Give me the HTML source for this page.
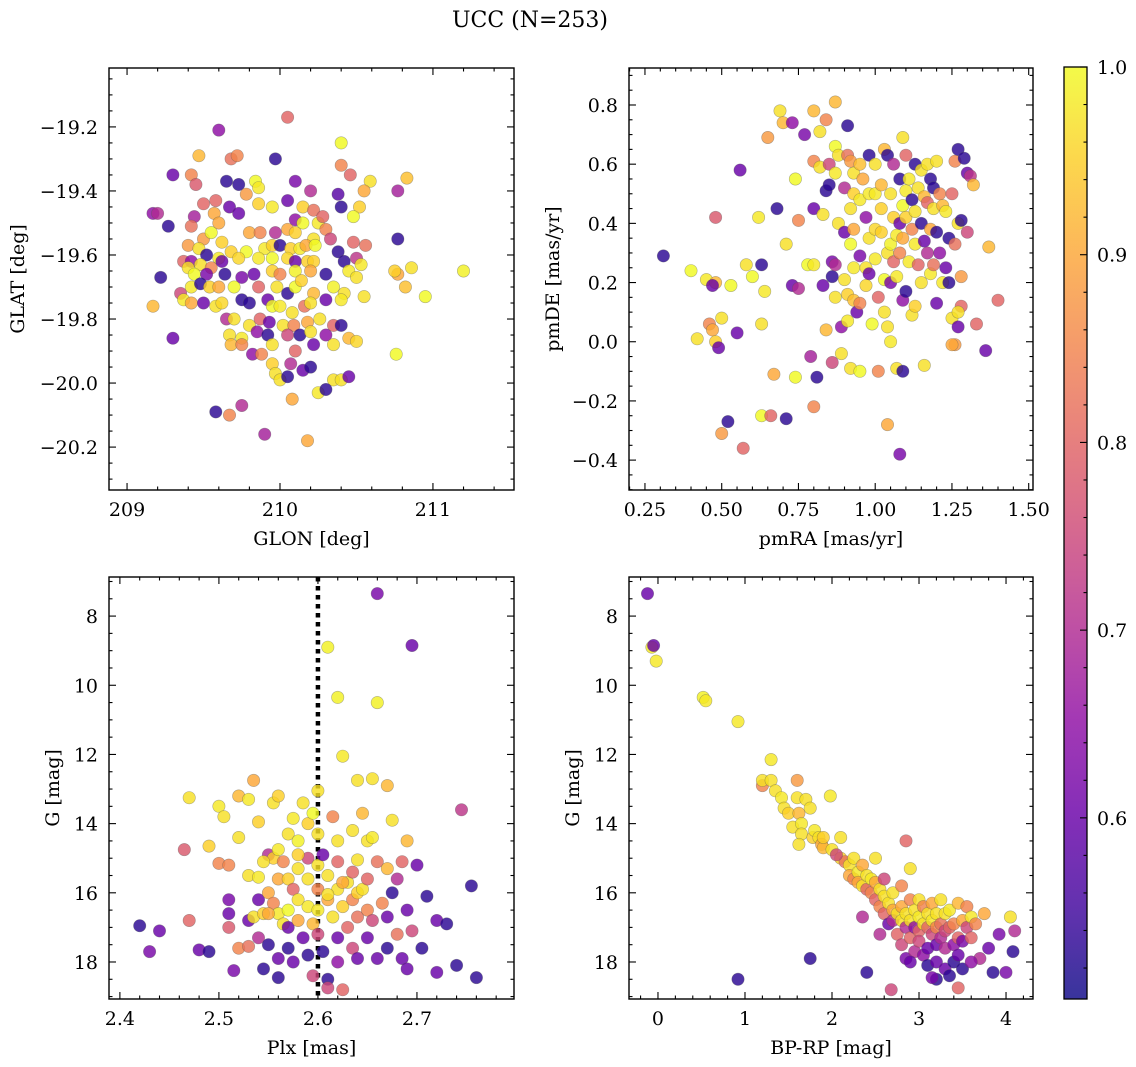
<!DOCTYPE html>
<html><head><meta charset="utf-8">
<style>
html,body{margin:0;padding:0;background:#fff;}
svg{display:block;font-family:"DejaVu Serif","Liberation Serif",serif;}
</style></head>
<body>
<svg id="fig" width="1136" height="1067" viewBox="0 0 1136 1067" xmlns="http://www.w3.org/2000/svg">
<text x="530" y="27" font-size="22" text-anchor="middle">UCC (N=253)</text>
</svg>
<script>
// ---------- data ----------
const glonGlatProb = [[210.05,-19.17,0.8],[209.6,-19.21,0.65],[210.4,-19.25,1.0],[209.97,-19.3,0.53],[210.4,-19.32,0.85],[209.47,-19.29,0.92],[209.68,-19.3,0.82],[209.72,-19.29,0.85],[210.83,-19.36,0.93],[210.59,-19.37,0.97],[210.46,-19.35,0.8],[209.3,-19.35,0.6],[209.42,-19.35,0.85],[209.45,-19.38,0.78],[209.84,-19.37,1.0],[209.86,-19.39,0.98],[209.65,-19.37,0.53],[209.73,-19.38,0.53],[209.78,-19.41,0.88],[210.1,-19.37,0.62],[210.2,-19.4,0.7],[210.38,-19.41,0.58],[210.55,-19.4,0.9],[210.77,-19.4,0.68],[210.52,-19.45,0.95],[210.4,-19.45,0.53],[209.5,-19.44,0.8],[209.58,-19.43,0.8],[209.67,-19.45,0.6],[209.86,-19.44,0.95],[209.95,-19.45,0.98],[210.05,-19.43,0.6],[210.15,-19.45,0.95],[210.22,-19.46,0.82],[209.44,-19.48,0.68],[209.57,-19.47,0.9],[209.73,-19.47,0.6],[209.17,-19.47,0.65],[209.2,-19.47,0.7],[209.27,-19.51,0.53],[209.42,-19.51,0.82],[209.6,-19.5,0.9],[210.1,-19.49,0.65],[210.15,-19.5,1.0],[210.25,-19.5,0.98],[210.28,-19.48,0.8],[210.48,-19.48,1.0],[210.77,-19.55,0.53],[209.5,-19.55,0.88],[209.55,-19.53,1.0],[209.62,-19.56,0.95],[209.8,-19.53,0.9],[209.87,-19.53,0.85],[209.97,-19.53,0.7],[210.05,-19.52,0.9],[210.1,-19.53,0.95],[210.22,-19.55,0.97],[210.3,-19.52,0.85],[210.33,-19.55,0.75],[210.48,-19.56,0.8],[210.56,-19.57,0.82],[209.4,-19.57,0.88],[209.47,-19.58,0.97],[209.52,-19.6,0.53],[209.6,-19.61,0.98],[209.68,-19.59,0.95],[209.78,-19.59,1.0],[209.9,-19.58,0.98],[209.95,-19.57,0.95],[210.0,-19.57,0.53],[210.07,-19.58,0.95],[210.13,-19.58,0.98],[210.17,-19.57,0.9],[210.23,-19.57,1.0],[210.38,-19.59,0.53],[209.37,-19.62,0.8],[209.42,-19.62,0.65],[209.48,-19.63,0.97],[209.55,-19.64,0.85],[209.62,-19.62,0.6],[209.73,-19.61,0.96],[209.86,-19.61,0.98],[209.95,-19.61,1.0],[210.05,-19.61,0.96],[210.1,-19.62,0.6],[210.18,-19.62,0.95],[210.22,-19.62,0.95],[210.42,-19.62,0.53],[210.5,-19.61,0.72],[210.53,-19.63,0.98],[209.22,-19.67,0.53],[209.4,-19.64,0.97],[209.44,-19.66,1.0],[209.52,-19.66,0.62],[209.64,-19.66,0.53],[209.75,-19.67,0.62],[209.83,-19.66,0.6],[209.95,-19.65,0.95],[210.0,-19.66,0.85],[210.1,-19.65,0.99],[210.2,-19.65,0.9],[210.3,-19.66,0.53],[210.45,-19.65,0.98],[210.5,-19.67,0.97],[210.77,-19.66,0.9],[210.75,-19.65,0.95],[210.86,-19.64,0.97],[211.2,-19.65,0.99],[209.35,-19.72,0.75],[209.42,-19.7,0.98],[209.48,-19.69,0.53],[209.54,-19.7,0.95],[209.6,-19.7,0.9],[209.7,-19.7,1.0],[209.86,-19.7,0.8],[209.98,-19.7,0.97],[210.05,-19.72,0.53],[210.1,-19.7,1.0],[210.14,-19.68,0.95],[210.22,-19.72,0.92],[210.35,-19.7,0.99],[210.42,-19.72,0.97],[210.82,-19.7,0.93],[210.95,-19.73,1.0],[209.17,-19.76,0.92],[209.37,-19.74,0.98],[209.42,-19.75,0.9],[209.5,-19.75,0.6],[209.58,-19.76,0.97],[209.62,-19.75,0.96],[209.75,-19.74,0.53],[209.8,-19.75,0.53],[209.92,-19.74,0.6],[209.95,-19.76,1.0],[210.0,-19.76,0.98],[210.08,-19.78,0.97],[210.16,-19.76,0.82],[210.2,-19.75,0.97],[210.3,-19.74,0.6],[210.4,-19.74,0.98],[210.55,-19.73,0.97],[209.65,-19.8,0.7],[209.7,-19.8,0.97],[209.8,-19.82,0.97],[209.87,-19.8,0.8],[209.93,-19.81,0.6],[210.02,-19.82,0.97],[210.09,-19.82,0.85],[210.18,-19.81,0.9],[210.26,-19.8,0.97],[210.35,-19.82,0.8],[210.4,-19.82,0.53],[209.67,-19.85,0.97],[209.75,-19.86,0.98],[209.85,-19.84,0.65],[209.92,-19.85,0.53],[210.05,-19.85,0.75],[210.13,-19.85,0.53],[210.2,-19.84,0.97],[210.3,-19.85,0.65],[210.45,-19.86,0.92],[209.3,-19.86,0.6],[209.68,-19.88,0.92],[209.75,-19.88,0.85],[209.95,-19.88,0.97],[210.1,-19.9,0.8],[210.22,-19.88,0.6],[210.35,-19.88,0.97],[210.5,-19.87,0.96],[209.82,-19.91,0.65],[209.88,-19.91,0.85],[209.95,-19.94,0.95],[210.07,-19.94,0.7],[210.15,-19.96,0.6],[210.2,-19.95,0.53],[210.76,-19.91,1.0],[209.97,-19.97,0.97],[210.0,-19.99,0.97],[210.05,-19.98,0.53],[210.35,-19.99,0.97],[210.4,-19.99,0.97],[210.45,-19.98,0.6],[210.08,-20.05,0.9],[210.25,-20.03,0.98],[210.3,-20.02,0.53],[209.75,-20.07,0.7],[209.58,-20.09,0.53],[209.67,-20.1,0.85],[209.9,-20.16,0.68],[210.18,-20.18,0.9]];
const pmraPmdeProb = [[0.31,0.29,0.53],[0.4,0.24,1.0],[0.42,0.01,0.97],[0.45,0.21,0.98],[0.46,0.06,0.85],[0.47,0.04,0.9],[0.48,0.2,0.92],[0.48,0.42,0.78],[0.47,0.19,0.6],[0.48,0.0,0.95],[0.49,-0.02,0.6],[0.5,0.08,0.97],[0.5,-0.31,0.88],[0.52,-0.27,0.53],[0.53,0.19,1.0],[0.55,0.03,0.6],[0.56,0.58,0.6],[0.57,-0.36,0.8],[0.58,0.26,0.97],[0.6,0.22,1.0],[0.62,0.42,0.98],[0.63,0.26,0.53],[0.63,0.06,0.97],[0.63,-0.25,1.0],[0.64,0.17,0.98],[0.65,0.69,0.88],[0.66,-0.25,0.8],[0.67,-0.11,0.9],[0.68,0.45,0.53],[0.69,0.78,0.97],[0.7,0.74,0.92],[0.71,0.33,0.97],[0.71,-0.26,0.53],[0.73,0.74,0.65],[0.73,0.19,0.6],[0.74,0.55,1.0],[0.74,-0.12,1.0],[0.75,0.41,0.85],[0.75,0.18,0.7],[0.77,0.7,0.62],[0.78,0.26,1.0],[0.79,-0.05,0.68],[0.8,0.78,0.92],[0.8,0.61,0.85],[0.8,0.45,0.6],[0.8,0.26,0.98],[0.8,-0.22,0.85],[0.81,-0.12,0.53],[0.82,0.71,0.97],[0.82,0.59,0.97],[0.83,0.43,0.97],[0.83,0.19,0.6],[0.84,0.75,0.85],[0.84,0.51,0.53],[0.84,0.04,0.92],[0.85,0.6,0.75],[0.85,0.53,0.53],[0.86,0.27,0.62],[0.86,0.22,0.53],[0.86,-0.07,0.75],[0.87,0.81,0.92],[0.87,0.66,1.0],[0.87,0.57,0.98],[0.87,0.26,0.7],[0.87,0.15,0.97],[0.88,0.63,0.97],[0.88,0.4,0.97],[0.89,0.05,0.65],[0.89,-0.04,0.97],[0.9,0.52,0.7],[0.9,0.37,0.6],[0.9,0.21,0.97],[0.91,0.73,0.53],[0.91,0.63,0.82],[0.91,0.16,0.95],[0.91,0.07,0.98],[0.92,0.61,0.88],[0.92,0.45,0.97],[0.92,0.33,1.0],[0.92,-0.09,0.97],[0.93,0.57,0.97],[0.93,0.5,0.95],[0.93,0.38,0.9],[0.93,0.25,0.98],[0.93,0.14,0.93],[0.94,0.1,0.6],[0.95,0.6,0.93],[0.95,0.48,0.98],[0.95,0.29,0.62],[0.95,0.13,0.85],[0.95,-0.1,1.0],[0.96,0.55,0.9],[0.97,0.42,0.65],[0.97,0.25,0.97],[0.97,0.19,0.96],[0.98,0.63,0.53],[0.98,0.5,0.98],[0.98,0.35,0.97],[0.98,0.23,0.6],[0.99,0.06,1.0],[1.0,0.6,0.97],[1.0,0.5,0.98],[1.0,0.38,0.96],[1.0,0.28,0.98],[1.01,0.15,0.8],[1.01,-0.1,0.85],[1.02,0.53,0.92],[1.02,0.45,0.95],[1.02,0.37,0.95],[1.03,0.65,0.92],[1.03,0.21,1.0],[1.03,0.1,0.97],[1.04,0.63,0.53],[1.04,0.3,0.97],[1.04,0.05,0.97],[1.04,-0.28,0.9],[1.05,0.5,0.97],[1.05,0.33,0.99],[1.05,0.2,0.62],[1.05,0.0,0.98],[1.06,0.6,0.7],[1.06,0.42,0.95],[1.06,0.27,0.8],[1.07,0.36,0.98],[1.07,0.22,0.98],[1.07,-0.09,0.97],[1.08,0.55,0.53],[1.08,0.4,0.6],[1.08,0.3,0.85],[1.08,-0.38,0.62],[1.09,0.69,0.97],[1.09,0.46,1.0],[1.09,0.35,0.9],[1.09,0.14,0.65],[1.09,-0.1,0.53],[1.1,0.63,0.8],[1.1,0.51,0.98],[1.1,0.42,0.95],[1.1,0.17,0.53],[1.11,0.55,0.98],[1.11,0.27,0.98],[1.12,0.48,0.53],[1.12,0.38,0.85],[1.12,0.09,0.97],[1.13,0.6,0.53],[1.13,0.44,0.97],[1.13,0.33,0.98],[1.13,0.12,0.95],[1.14,0.52,0.97],[1.14,0.26,0.8],[1.15,0.58,0.97],[1.15,0.4,0.53],[1.15,0.2,0.97],[1.16,0.49,0.92],[1.16,0.34,0.6],[1.16,-0.08,0.97],[1.17,0.6,0.97],[1.17,0.47,0.8],[1.17,0.3,0.7],[1.18,0.55,0.53],[1.18,0.38,0.9],[1.18,0.23,0.98],[1.19,0.52,0.53],[1.19,0.45,0.97],[1.19,0.26,0.82],[1.2,0.61,0.97],[1.2,0.37,0.53],[1.2,0.13,0.6],[1.21,0.5,0.85],[1.21,0.3,0.65],[1.22,0.46,0.92],[1.22,0.2,0.98],[1.23,0.44,0.98],[1.23,0.25,0.6],[1.24,0.35,0.53],[1.24,0.2,0.53],[1.25,0.5,0.8],[1.25,0.08,0.97],[1.26,0.61,0.85],[1.26,0.33,0.82],[1.26,-0.01,0.88],[1.27,0.65,0.53],[1.27,0.4,0.97],[1.27,0.05,0.6],[1.28,0.22,0.88],[1.28,0.12,0.8],[1.28,0.41,0.53],[1.29,0.62,0.53],[1.3,0.57,0.6],[1.3,0.37,0.75],[1.31,0.56,0.72],[1.32,0.53,0.92],[1.33,0.06,0.8],[1.36,-0.03,0.6],[1.37,0.32,0.92],[1.4,0.14,0.8],[1.27,0.1,0.97],[1.25,-0.01,0.9]];
const plxGProb = [[2.42,16.95,0.53],[2.44,17.1,0.6],[2.43,17.7,0.62],[2.465,14.75,0.78],[2.47,13.25,0.97],[2.47,16.8,0.8],[2.48,17.65,0.6],[2.49,17.7,0.53],[2.49,14.65,0.95],[2.5,13.5,0.98],[2.5,15.15,0.85],[2.505,13.8,0.97],[2.51,15.2,0.85],[2.51,16.2,0.62],[2.51,16.6,0.6],[2.51,17.0,0.78],[2.515,18.25,0.62],[2.52,13.2,0.92],[2.52,14.4,0.97],[2.52,17.6,0.85],[2.53,13.3,0.98],[2.53,15.5,0.97],[2.53,16.8,0.6],[2.53,17.55,0.82],[2.535,12.75,0.9],[2.535,16.7,0.97],[2.54,13.95,0.95],[2.54,15.55,0.98],[2.54,16.2,0.6],[2.54,17.3,0.7],[2.545,18.2,0.53],[2.545,16.6,0.95],[2.55,14.9,0.7],[2.55,16.0,0.9],[2.55,17.5,0.53],[2.555,13.4,0.97],[2.555,15.0,0.95],[2.555,16.3,0.85],[2.56,13.2,0.95],[2.56,14.75,0.98],[2.56,15.6,0.9],[2.56,16.6,0.98],[2.56,17.9,0.6],[2.56,18.45,0.53],[2.565,15.1,0.85],[2.565,16.9,0.97],[2.57,14.3,0.97],[2.57,15.6,0.95],[2.57,16.5,1.0],[2.57,17.0,0.6],[2.57,17.6,0.53],[2.575,13.85,0.98],[2.575,15.9,0.8],[2.575,18.0,0.6],[2.58,14.5,0.99],[2.58,15.3,0.97],[2.58,16.2,0.97],[2.58,16.8,0.9],[2.585,13.4,0.97],[2.585,17.3,0.6],[2.59,14.0,0.95],[2.59,15.0,0.75],[2.59,15.6,0.97],[2.59,16.4,0.98],[2.59,17.8,0.53],[2.595,13.7,1.0],[2.595,16.9,0.92],[2.595,18.4,0.75],[2.6,13.05,0.97],[2.6,14.3,0.97],[2.6,15.2,0.97],[2.6,15.9,0.85],[2.6,16.5,0.98],[2.6,17.2,0.75],[2.605,14.9,0.6],[2.605,17.7,0.53],[2.61,8.9,0.99],[2.61,15.5,0.97],[2.61,16.2,0.9],[2.61,18.5,0.53],[2.61,18.75,0.75],[2.615,13.8,0.85],[2.615,16.7,0.97],[2.62,10.35,0.99],[2.62,14.5,0.97],[2.62,15.1,0.8],[2.62,15.9,0.97],[2.62,17.3,0.6],[2.62,18.0,0.65],[2.625,12.05,0.98],[2.625,16.4,0.95],[2.625,18.8,0.8],[2.63,15.7,0.97],[2.63,17.0,0.8],[2.635,14.2,0.97],[2.635,15.4,0.8],[2.635,16.2,0.85],[2.635,17.6,0.75],[2.64,12.75,0.97],[2.64,15.05,0.97],[2.64,16.0,0.95],[2.64,16.7,0.82],[2.64,17.9,0.6],[2.645,13.7,0.92],[2.645,15.9,0.97],[2.65,14.5,0.97],[2.65,15.6,0.8],[2.65,16.5,0.85],[2.65,17.3,0.6],[2.655,12.7,0.97],[2.655,14.4,0.98],[2.655,16.8,0.75],[2.66,7.35,0.62],[2.66,10.5,0.99],[2.66,15.1,0.82],[2.66,17.9,0.6],[2.665,16.3,0.85],[2.67,12.9,0.92],[2.67,15.3,0.92],[2.67,16.7,0.6],[2.67,17.6,0.53],[2.675,13.9,0.97],[2.675,16.0,0.53],[2.68,15.6,0.7],[2.68,17.2,0.82],[2.685,15.1,0.8],[2.685,17.9,0.6],[2.69,14.5,0.92],[2.69,16.5,0.6],[2.69,18.2,0.6],[2.695,8.85,0.6],[2.695,17.1,0.75],[2.7,15.2,0.6],[2.705,17.6,0.53],[2.71,16.1,0.53],[2.72,18.3,0.6],[2.72,16.8,0.6],[2.73,16.9,0.53],[2.74,18.1,0.53],[2.745,13.6,0.72],[2.755,15.8,0.53],[2.76,18.45,0.53],[2.55,16.6,0.9],[2.545,15.1,0.97],[2.58,14.9,0.95],[2.61,16.05,0.97],[2.625,15.7,0.9]];
const bprpGProb = [[-0.12,7.35,0.6],[-0.07,8.9,0.98],[-0.05,8.85,0.6],[-0.02,9.3,0.98],[0.52,10.35,0.99],[0.55,10.45,0.98],[0.92,11.05,0.98],[1.3,12.15,0.98],[1.2,12.9,0.85],[1.2,12.75,0.97],[1.3,12.75,0.97],[1.35,13.05,0.97],[1.42,13.25,0.98],[1.45,13.55,0.97],[1.5,13.7,0.95],[1.55,14.1,0.97],[1.6,12.75,0.88],[1.6,13.25,0.97],[1.62,13.7,0.92],[1.65,14.0,0.98],[1.65,14.3,0.97],[1.7,13.3,0.97],[1.75,13.55,0.97],[1.78,14.4,0.95],[1.62,14.6,0.97],[1.8,14.2,0.98],[1.85,14.4,0.97],[1.88,14.6,0.9],[1.9,14.7,0.92],[1.98,13.2,0.98],[2.0,14.75,0.97],[2.1,14.4,0.97],[2.1,15.0,0.95],[2.15,15.1,0.82],[2.2,15.2,0.97],[2.2,15.5,0.9],[2.25,15.0,0.97],[2.25,15.6,0.85],[2.3,15.4,0.98],[2.3,15.7,0.9],[2.35,15.2,0.9],[2.35,15.8,0.97],[2.4,15.5,0.97],[2.4,15.9,0.8],[2.45,15.6,0.98],[2.45,16.0,0.85],[2.5,15.0,0.97],[2.5,15.7,0.9],[2.5,16.2,0.8],[2.55,15.9,0.97],[2.55,16.4,0.85],[2.6,15.6,0.75],[2.6,16.1,0.97],[2.6,16.6,0.8],[2.65,16.3,0.97],[2.65,16.9,0.6],[2.7,16.0,0.97],[2.7,16.5,0.9],[2.7,16.8,0.7],[2.75,16.6,0.97],[2.75,17.2,0.8],[2.8,15.8,0.85],[2.8,16.4,0.9],[2.8,16.8,0.97],[2.8,17.5,0.75],[2.85,14.5,0.8],[2.85,16.6,0.97],[2.85,17.0,0.7],[2.85,17.9,0.62],[2.9,15.3,0.97],[2.9,16.2,0.85],[2.9,16.8,0.97],[2.9,17.3,0.8],[2.95,16.5,0.97],[2.95,17.0,0.65],[2.95,17.7,0.7],[3.0,16.2,0.97],[3.0,16.7,0.98],[3.0,17.1,0.8],[3.0,17.4,0.75],[3.05,16.4,0.85],[3.05,16.9,0.97],[3.05,17.8,0.65],[3.1,16.6,0.97],[3.1,17.0,0.8],[3.1,17.6,0.6],[3.1,18.1,0.53],[3.15,16.3,0.9],[3.15,16.8,0.98],[3.15,17.2,0.75],[3.2,16.6,0.97],[3.2,17.0,0.85],[3.2,17.5,0.6],[3.2,18.0,0.6],[3.2,18.5,0.53],[3.25,16.2,0.97],[3.25,16.9,0.82],[3.25,17.3,0.7],[3.3,16.6,0.97],[3.3,17.1,0.75],[3.3,17.6,0.7],[3.3,18.2,0.6],[3.35,16.5,0.98],[3.35,17.0,0.8],[3.35,18.4,0.53],[3.4,16.9,0.85],[3.4,17.5,0.65],[3.4,18.0,0.53],[3.45,16.3,0.92],[3.45,17.3,0.8],[3.45,17.8,0.6],[3.45,18.75,0.8],[3.5,16.8,0.9],[3.5,17.4,0.62],[3.5,18.2,0.53],[3.55,17.0,0.75],[3.55,16.4,0.85],[3.6,16.7,0.98],[3.6,17.3,0.8],[3.65,16.9,0.85],[3.7,17.9,0.7],[3.75,16.6,0.9],[3.8,17.6,0.6],[3.85,18.3,0.53],[3.92,17.2,0.62],[4.0,18.3,0.62],[4.05,16.7,0.97],[4.08,17.7,0.53],[4.1,17.1,0.7],[0.92,18.5,0.53],[1.75,17.9,0.53],[2.35,16.7,0.7],[2.4,18.3,0.53],[2.68,18.8,0.75],[2.9,18.0,0.6],[3.15,18.45,0.62],[3.6,18.0,0.65],[2.55,17.2,0.7],[2.05,14.9,0.75],[1.9,14.4,0.95]];
const glonTicks = [209,210,211];
const glatTicks = [-19.2,-19.4,-19.6,-19.8,-20.0,-20.2];
const pmraTicks = [0.25,0.50,0.75,1.00,1.25,1.50];
const pmdeTicks = [0.8,0.6,0.4,0.2,0.0,-0.2,-0.4];
const plxTicks = [2.4,2.5,2.6,2.7];
const gTicks = [8,10,12,14,16,18];
const bprpTicks = [0,1,2,3,4];
const cbarTicks = [0.6,0.7,0.8,0.9,1.0];
const plxLine = 2.6;
const probMin = 0.5035, probMax = 1.0;

// ---------- helpers ----------
const NS = "http://www.w3.org/2000/svg";
const svg = document.getElementById('fig');
const FS = 19;
function el(tag, attrs, parent){
  const e = document.createElementNS(NS, tag);
  for (const k in attrs) e.setAttribute(k, attrs[k]);
  (parent||svg).appendChild(e); return e;
}
const plasma = ['#0d0887','#41049d','#6a00a8','#8f0da4','#b12a90','#cc4778','#e16462','#f2844b','#fca636','#fcce25','#f0f921'];
function hex(h){return [parseInt(h.substr(1,2),16),parseInt(h.substr(3,2),16),parseInt(h.substr(5,2),16)];}
function cmap(t){
  t=Math.max(0,Math.min(1,t)); const f=t*10; const i=Math.min(9,Math.floor(f)); const u=f-i;
  const a=hex(plasma[i]), b=hex(plasma[i+1]);
  return 'rgb('+a.map((v,k)=>Math.round(v+(b[k]-v)*u)).join(',')+')';
}
function probColor(p){return cmap((p-probMin)/(probMax-probMin));}
function fmt(v,d){const s=Math.abs(v).toFixed(d); return (v<0?'\u2212':'')+s;}

function panel(cfg){
  const {x0,x1,y0,y1,xmin,xmax,ymin,ymax,name} = cfg;
  const sx = v => x0 + (v-xmin)/(xmax-xmin)*(x1-x0);
  const sy = v => y1 - (v-ymin)/(ymax-ymin)*(y1-y0);
  const g = el('g',{});
  
  
  const clipId='clip-'+name;
  const cp=el('clipPath',{id:clipId},g); el('rect',{x:x0,y:y0,width:x1-x0,height:y1-y0},cp);
  const pts = el('g',{'clip-path':'url(#'+clipId+')'},g);
  if (cfg.extra) cfg.extra(pts,sx,sy,'pre');
  cfg.data.forEach(d=>{
    const c = el('circle',{cx:sx(d[0]).toFixed(1),cy:sy(d[1]).toFixed(1),r:6.2,fill:probColor(d[2]),'fill-opacity':0.82,stroke:'#555','stroke-opacity':0.45,'stroke-width':0.6},pts);
    
    
  });
  el('rect',{x:x0,y:y0,width:x1-x0,height:y1-y0,fill:'none',stroke:'#000','stroke-width':1.4},g);
  const tk = el('g',{stroke:'#000','stroke-width':1.1},g);
  const lo = Math.min(xmin,xmax), hi=Math.max(xmin,xmax);
  for (let v=Math.ceil(lo/cfg.xminor-1e-6)*cfg.xminor; v<=hi+1e-9; v+=cfg.xminor){
    const X=sx(v); if (X<x0-0.5||X>x1+0.5) continue;
    const major = cfg.xticks.some(t=>Math.abs(t-v)<cfg.xminor/10);
    const L = major?7:3.5;
    el('line',{x1:X,x2:X,y1:y1,y2:y1-L},tk); el('line',{x1:X,x2:X,y1:y0,y2:y0+L},tk);
  }
  const ylo=Math.min(ymin,ymax), yhi=Math.max(ymin,ymax);
  for (let v=Math.ceil(ylo/cfg.yminor-1e-6)*cfg.yminor; v<=yhi+1e-9; v+=cfg.yminor){
    const Y=sy(v); if (Y<y0-0.5||Y>y1+0.5) continue;
    const major = cfg.yticks.some(t=>Math.abs(t-v)<cfg.yminor/10);
    const L = major?7:3.5;
    el('line',{y1:Y,y2:Y,x1:x0,x2:x0+L},tk); el('line',{y1:Y,y2:Y,x1:x1,x2:x1-L},tk);
  }
  cfg.xticks.forEach(v=>{
    const t=el('text',{x:sx(v),y:y1+26,'font-size':FS,'text-anchor':'middle'},g); t.textContent=fmt(v,cfg.xdec);
    
    
  });
  cfg.yticks.forEach(v=>{
    const t=el('text',{x:x0-11,y:sy(v)+7,'font-size':FS,'text-anchor':'end'},g); t.textContent=fmt(v,cfg.ydec);
    
    
  });
  const xl=el('text',{x:(x0+x1)/2,y:y1+55,'font-size':FS,'text-anchor':'middle'},g); xl.textContent=cfg.xlabel;
  
  
  const yx=cfg.ylabx, yy=(y0+y1)/2;
  const yl=el('text',{x:yx,y:yy,'font-size':FS,'text-anchor':'middle',transform:'rotate(-90 '+yx+' '+yy+')'},g); yl.textContent=cfg.ylabel;
  
  
}

panel({name:'glon-glat',x0:109,x1:514,y0:68,y1:490,xmin:208.882,xmax:211.53,ymin:-20.334,ymax:-19.016,
  data:glonGlatProb,xticks:glonTicks,yticks:glatTicks,xminor:0.2,yminor:0.05,xdec:0,ydec:1,
  xlabel:'GLON [deg]',ylabel:'GLAT [deg]',ylabx:24});
panel({name:'pmra-pmde',x0:629,x1:1033,y0:68,y1:490,xmin:0.198,xmax:1.514,ymin:-0.501,ymax:0.925,
  data:pmraPmdeProb,xticks:pmraTicks,yticks:pmdeTicks,xminor:0.05,yminor:0.05,xdec:2,ydec:1,
  xlabel:'pmRA [mas/yr]',ylabel:'pmDE [mas/yr]',ylabx:559});
panel({name:'plx-g',x0:109,x1:514,y0:577,y1:999,xmin:2.389,xmax:2.798,ymin:19.07,ymax:6.87,
  data:plxGProb,xticks:plxTicks,yticks:gTicks,xminor:0.02,yminor:0.5,xdec:1,ydec:0,
  xlabel:'Plx [mas]',ylabel:'G [mag]',ylabx:59,
  extra:(g,sx,sy,phase)=>{ if(phase!=='pre')return;
    const l=el('line',{x1:sx(plxLine),x2:sx(plxLine),y1:577,y2:999,stroke:'#000','stroke-width':4.5,'stroke-dasharray':'4.5,4.5'},g);
    
    
  }});
panel({name:'cmd',x0:629,x1:1033,y0:577,y1:999,xmin:-0.333,xmax:4.31,ymin:19.07,ymax:6.87,
  data:bprpGProb,xticks:bprpTicks,yticks:gTicks,xminor:0.2,yminor:0.5,xdec:0,ydec:0,
  xlabel:'BP-RP [mag]',ylabel:'G [mag]',ylabx:579});

(function(){
  const x0=1064,x1=1087,y0=67,y1=999;
  const g=el('g',{});
  
  
  const defs=el('defs',{},g);
  const lg=el('linearGradient',{id:'cbg',x1:0,y1:1,x2:0,y2:0},defs);
  for(let i=0;i<=20;i++){el('stop',{offset:(i/20),'stop-color':cmap(i/20),'stop-opacity':0.82},lg);}
  el('rect',{x:x0,y:y0,width:x1-x0,height:y1-y0,fill:'url(#cbg)'},g);
  el('rect',{x:x0,y:y0,width:x1-x0,height:y1-y0,fill:'none',stroke:'#000','stroke-width':1.3},g);
  const sy=v=>y1-(v-probMin)/(probMax-probMin)*(y1-y0);
  for(let v=0.52; v<=1.0001; v+=0.02){
    const Y=sy(v); const major=cbarTicks.some(t=>Math.abs(t-v)<0.002);
    el('line',{x1:x1,x2:x1-(major?7:3.5),y1:Y,y2:Y,stroke:'#000','stroke-width':1.1},g);
  }
  cbarTicks.forEach(v=>{
    const t=el('text',{x:x1+10,y:sy(v)+7,'font-size':FS},g); t.textContent=v.toFixed(1);
    
    
  });
})();
</script>
</body></html>
